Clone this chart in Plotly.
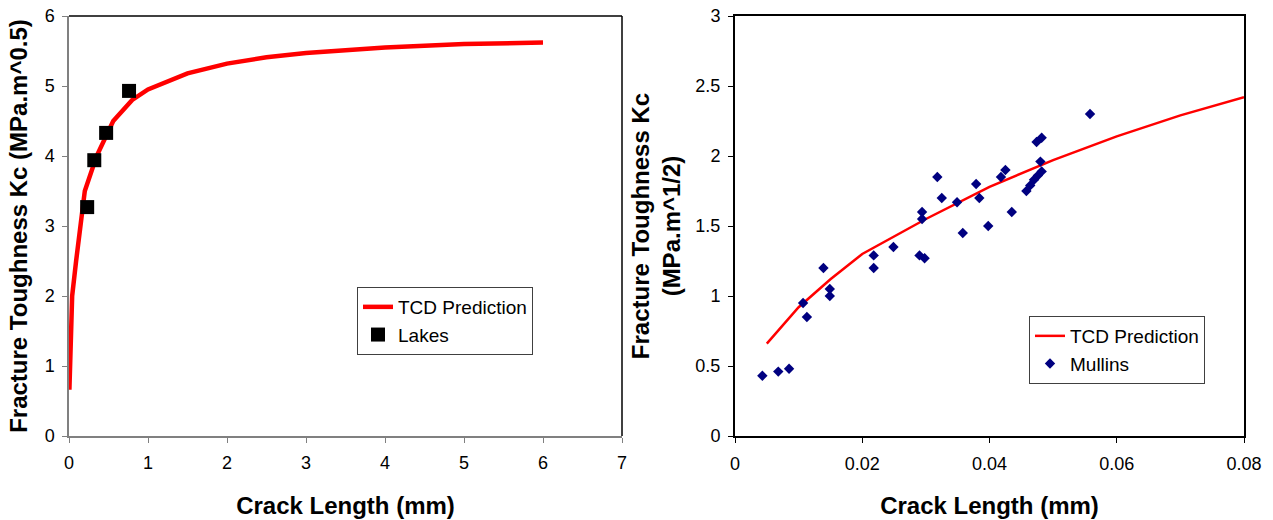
import plotly.graph_objects as go

# ---- Left panel data ----
tcd_left_x = [0.005, 0.013, 0.025, 0.04, 0.09, 0.14, 0.2, 0.35, 0.56, 0.8, 1.0, 1.5, 2.0, 2.5, 3.0, 4.0, 5.0, 6.0]
tcd_left_y = [0.66, 1.0, 1.5, 2.0, 2.5, 3.0, 3.5, 4.0, 4.5, 4.8, 4.95, 5.18, 5.32, 5.41, 5.47, 5.55, 5.6, 5.62]
lakes_x = [0.23, 0.32, 0.47, 0.76]
lakes_y = [3.27, 3.94, 4.33, 4.93]

# ---- Right panel data ----
tcd_right_x = [0.005, 0.01, 0.015, 0.02, 0.03, 0.04, 0.05, 0.06, 0.07, 0.08]
tcd_right_y = [0.66, 0.92, 1.12, 1.30, 1.55, 1.78, 1.97, 2.14, 2.29, 2.42]
mullins_x = [0.0043, 0.0068, 0.0085, 0.0107, 0.0113, 0.0139, 0.0149, 0.0149, 0.0218, 0.0218,
             0.0249, 0.0290, 0.0298, 0.0294, 0.0294, 0.0318, 0.0325, 0.0349, 0.0358, 0.0379,
             0.0384, 0.0398, 0.0418, 0.0425, 0.0435, 0.0458, 0.0464, 0.0470, 0.0476, 0.0482,
             0.0480, 0.0474, 0.0482, 0.0558]
mullins_y = [0.43, 0.46, 0.48, 0.95, 0.85, 1.20, 1.05, 1.00, 1.29, 1.20,
             1.35, 1.29, 1.27, 1.60, 1.55, 1.85, 1.70, 1.67, 1.45, 1.80,
             1.70, 1.50, 1.85, 1.90, 1.60, 1.75, 1.79, 1.83, 1.86, 1.89,
             1.96, 2.10, 2.13, 2.30]

left_xticks = [0, 1, 2, 3, 4, 5, 6, 7]
left_yticks = [0, 1, 2, 3, 4, 5, 6]
right_xticks = [0, 0.02, 0.04, 0.06, 0.08]
right_xticklabels = ["0", "0.02", "0.04", "0.06", "0.08"]
right_yticks = [0, 0.5, 1, 1.5, 2, 2.5, 3]
right_yticklabels = ["0", "0.5", "1", "1.5", "2", "2.5", "3"]

FONT = "Liberation Sans, Arial, sans-serif"
W, H = 1273, 520

fig = go.Figure()
fig.add_trace(go.Scatter(x=tcd_left_x, y=tcd_left_y, mode="lines", name="TCD Prediction",
                         line=dict(color="#FF0000", width=4.5), xaxis="x", yaxis="y", legend="legend"))
fig.add_trace(go.Scatter(x=lakes_x, y=lakes_y, mode="markers", name="Lakes",
                         marker=dict(symbol="square", size=14, color="#000000"),
                         xaxis="x", yaxis="y", legend="legend"))
fig.add_trace(go.Scatter(x=tcd_right_x, y=tcd_right_y, mode="lines", name="TCD Prediction",
                         line=dict(color="#FF0000", width=2.5), xaxis="x2", yaxis="y2", legend="legend2"))
fig.add_trace(go.Scatter(x=mullins_x, y=mullins_y, mode="markers", name="Mullins",
                         marker=dict(symbol="diamond", size=8, color="#000080"),
                         xaxis="x2", yaxis="y2", legend="legend2"))

ydom = [1 - 436 / H, 1 - 16 / H]
tickfont = dict(family=FONT, size=18, color="#000000")
titlefont = dict(family=FONT, size=24, color="#000000", weight="bold")

common = dict(showgrid=False, zeroline=False, showline=True, ticks="outside", ticklen=5,
              tickfont=tickfont, automargin=False)

fig.update_layout(
    width=W, height=H,
    margin=dict(l=0, r=0, t=0, b=0),
    paper_bgcolor="white", plot_bgcolor="white",
    font=dict(family=FONT, color="#000000"),
    xaxis=dict(domain=[69 / W, 622 / W], range=[0, 7], tickvals=left_xticks,
               linecolor="#808080", linewidth=1.5, tickcolor="#808080", anchor="y",
               ticklabelstandoff=5,
               title=dict(text="Crack Length (mm)", font=titlefont, standoff=25), **common),
    yaxis=dict(domain=ydom, range=[0, 6], tickvals=left_yticks,
               linecolor="#808080", linewidth=1.5, tickcolor="#808080", anchor="x",
               ticklabelstandoff=4,
               title=dict(text="Fracture Toughness Kc (MPa.m^0.5)", font=titlefont, standoff=10), **common),
    xaxis2=dict(domain=[735 / W, 1244 / W], range=[0, 0.08], tickvals=right_xticks,
                ticktext=right_xticklabels, mirror=True,
                linecolor="#000000", linewidth=2, tickcolor="#000000", anchor="y2",
                ticklabelstandoff=5,
                title=dict(text="Crack Length (mm)", font=titlefont, standoff=25), **common),
    yaxis2=dict(domain=ydom, range=[0, 3], tickvals=right_yticks, ticktext=right_yticklabels,
                mirror=True,
                linecolor="#000000", linewidth=2, tickcolor="#000000", anchor="x2",
                ticklabelstandoff=4,
                title=dict(text="Fracture Toughness Kc<br>(MPa.m^1/2)", font=titlefont, standoff=8), **common),
    legend=dict(x=357 / W, y=1 - 287 / H, xanchor="left", yanchor="top",
                bgcolor="white", bordercolor="#404040", borderwidth=1,
                font=dict(family=FONT, size=19, color="#000000"), tracegroupgap=0),
    legend2=dict(x=1029 / W, y=1 - 316 / H, xanchor="left", yanchor="top",
                 bgcolor="white", bordercolor="#404040", borderwidth=1,
                 font=dict(family=FONT, size=19, color="#000000"), tracegroupgap=0),
    showlegend=True,
)

# Black plot-area border on top and right of left panel
fig.add_shape(type="line", xref="x domain", yref="y domain", x0=0, x1=1, y0=1, y1=1,
              line=dict(color="#000000", width=1.5))
fig.add_shape(type="line", xref="x domain", yref="y domain", x0=1, x1=1, y0=0, y1=1,
              line=dict(color="#000000", width=1.5))

fig.write_html("out.html", config={"displayModeBar": False},
               post_script="document.body.style.margin='0';document.body.style.overflow='hidden';")
